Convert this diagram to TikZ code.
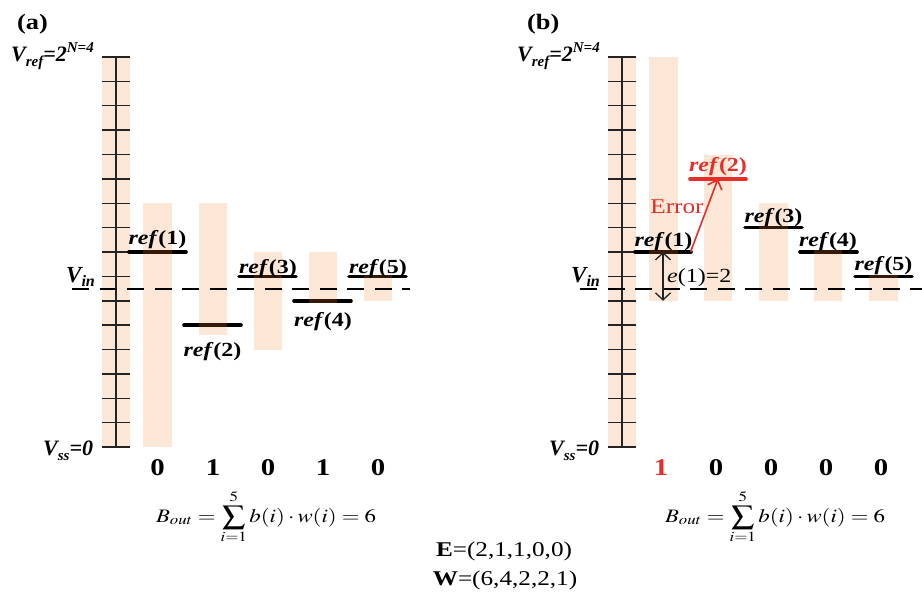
\documentclass[tikz,border=0pt]{standalone}
\usepackage{graphicx}
\usepackage{mathptmx}
\usepackage{fontspec}
\setmainfont{Liberation Serif}
\usetikzlibrary{arrows.meta}
\definecolor{peach}{RGB}{252,230,213}
\definecolor{errred}{RGB}{230,45,40}
\definecolor{ovl}{RGB}{55,25,8}
\definecolor{tickc}{RGB}{35,35,35}
\newcommand\sx[1]{\scalebox{1.2}[1]{#1}}
\newcommand\reflab[1]{\sx{\fontsize{20}{20}\selectfont\textbf{\textit{ref}}\textbf{(#1)}}}
\def\Y#1{447-24.375*#1}
\begin{document}
\begin{tikzpicture}[x=1pt,y=-1pt,
  tickl/.style={draw=tickc,line width=1.5pt},
  refl/.style={line width=3.6pt,line cap=round},
  vinl/.style={line width=2.4pt,dash pattern=on 17pt off 10.5pt},
  txt/.style={inner sep=0pt,anchor=base},
  ltxt/.style={inner sep=0pt,anchor=base west},
  digit/.style={inner sep=0pt,anchor=base,font=\fontsize{24}{24}\selectfont\bfseries},
  barb/.style={line width=1.3pt,draw=tickc}]
\useasboundingbox (0,0) rectangle (922,594);

% ---------------- panel (a) ----------------
\node[ltxt] (la) at (17,30) {\sx{\fontsize{22}{22}\selectfont\bfseries (a)}};
\fill[peach] (102,57) rectangle (130,447);
\fill[peach] (143,{\Y{10}}) rectangle (172,{\Y{0}});
\fill[peach] (199,{\Y{10}}) rectangle (227,335);
\fill[peach] (254,{\Y{8}}) rectangle (282,{\Y{4}});
\fill[peach] (309,{\Y{8}}) rectangle (337,{\Y{6}});
\fill[peach] (364,{\Y{7}}) rectangle (392,{\Y{6}});
\draw[tickl] (116,57) -- (116,447);
\foreach \k in {0,...,16} \draw[tickl] (102,{\Y{\k}}) -- (130,{\Y{\k}});
\draw[vinl] (72,289) -- (410,289);
% ref lines
\draw[refl] (129,{\Y{8}}) -- (186,{\Y{8}});
\draw[refl,ovl,line cap=butt] (143,{\Y{8}}) -- (172,{\Y{8}});
\draw[refl] (184,{\Y{5}}) -- (241,{\Y{5}});
\draw[refl,ovl,line cap=butt] (199,{\Y{5}}) -- (227,{\Y{5}});
\draw[refl] (239,{\Y{7}}) -- (296,{\Y{7}});
\draw[refl,ovl,line cap=butt] (254,{\Y{7}}) -- (282,{\Y{7}});
\draw[refl] (294,{\Y{6}}) -- (351,{\Y{6}});
\draw[refl,ovl,line cap=butt] (309,{\Y{6}}) -- (337,{\Y{6}});
\draw[refl] (349,{\Y{7}}) -- (406,{\Y{7}});
\draw[refl,ovl,line cap=butt] (364,{\Y{7}}) -- (392,{\Y{7}});
\node[txt] (ra1) at (157.5,244) {\reflab{1}};
\node[txt] (ra2) at (212.5,356) {\reflab{2}};
\node[txt] (ra3) at (268,273) {\reflab{3}};
\node[txt] (ra4) at (323,326) {\reflab{4}};
\node[txt] (ra5) at (378,273) {\reflab{5}};
\node[ltxt] (vrefa) at (11,62) {\fontsize{22}{22}\selectfont\bfseries\itshape V\raisebox{-5pt}{\fontsize{15}{15}\selectfont ref}=2\raisebox{9pt}{\fontsize{15}{15}\selectfont N=4}};
\node[ltxt] (vina) at (66,282) {\fontsize{23}{23}\selectfont\bfseries\itshape V\raisebox{-4pt}{\fontsize{16}{16}\selectfont in}};
\node[ltxt] (vssa) at (43,455) {\fontsize{22}{22}\selectfont\bfseries\itshape V\raisebox{-5pt}{\fontsize{15}{15}\selectfont ss}=0};
\node[digit] (da1) at (157.5,475) {\sx{0}};
\node[digit] (da2) at (213,475) {\sx{1}};
\node[digit] (da3) at (268,475) {\sx{0}};
\node[digit] (da4) at (323,475) {\sx{1}};
\node[digit] (da5) at (378,475) {\sx{0}};
\node[txt] (fa) at (266,522) {\sx{\fontsize{19}{19}\selectfont$\displaystyle B_{out} = \sum_{i=1}^{5} b(i)\cdot w(i) = 6$}};

% ---------------- panel (b) ----------------
\node[ltxt] (lb) at (527,30) {\sx{\fontsize{22}{22}\selectfont\bfseries (b)}};
\fill[peach] (608,57) rectangle (636,447);
\fill[peach] (649,{\Y{16}}) rectangle (678,{\Y{6}});
\fill[peach] (704,{\Y{12}}) rectangle (732,{\Y{6}});
\fill[peach] (759,{\Y{10}}) rectangle (788,{\Y{6}});
\fill[peach] (814,{\Y{8}}) rectangle (842,{\Y{6}});
\fill[peach] (869,{\Y{7}}) rectangle (898,{\Y{6}});
\draw[tickl] (622,57) -- (622,447);
\foreach \k in {0,...,16} \draw[tickl] (608,{\Y{\k}}) -- (636,{\Y{\k}});
\draw[vinl] (580,289) -- (922,289);
\draw[refl] (635,{\Y{8}}) -- (691,{\Y{8}});
\draw[refl,ovl,line cap=butt] (649,{\Y{8}}) -- (678,{\Y{8}});
\draw[refl,errred] (690,{\Y{11}}) -- (746,{\Y{11}});
\draw[refl] (745,{\Y{9}}) -- (802,{\Y{9}});
\draw[refl,ovl,line cap=butt] (759,{\Y{9}}) -- (788,{\Y{9}});
\draw[refl] (800,{\Y{8}}) -- (857,{\Y{8}});
\draw[refl,ovl,line cap=butt] (814,{\Y{8}}) -- (842,{\Y{8}});
\draw[refl] (855,{\Y{7}}) -- (912,{\Y{7}});
\draw[refl,ovl,line cap=butt] (869,{\Y{7}}) -- (898,{\Y{7}});
\node[txt] (rb1) at (663.5,246) {\reflab{1}};
\node[txt,text=errred] (rb2) at (718,171) {\reflab{2}};
\node[txt] (rb3) at (773.5,222) {\reflab{3}};
\node[txt] (rb4) at (828,246) {\reflab{4}};
\node[txt] (rb5) at (883.5,270) {\reflab{5}};
\coordinate (es) at (690.5,{\Y{8}});
\coordinate (et) at (718,{\Y{11}});
\draw[errred,line width=1.6pt,-{Straight Barb[length=8pt,width=15pt]}] (es) -- (et);
\node[txt,text=errred] (errt) at (677,213) {\sx{\fontsize{21}{21}\selectfont Error}};
\coordinate (ea) at (663,{\Y{8}});
\coordinate (eb) at (663,{\Y{6}});
\draw[barb,{Straight Barb[length=7pt,width=15pt]}-{Straight Barb[length=7pt,width=15pt]}] (ea) -- (eb);
\node[ltxt] (elab) at (667,282) {\sx{\fontsize{20}{20}\selectfont\textit{e}(1)=2}};
\node[ltxt] (vrefb) at (517,62) {\fontsize{22}{22}\selectfont\bfseries\itshape V\raisebox{-5pt}{\fontsize{15}{15}\selectfont ref}=2\raisebox{9pt}{\fontsize{15}{15}\selectfont N=4}};
\node[ltxt] (vinb) at (571,282) {\fontsize{23}{23}\selectfont\bfseries\itshape V\raisebox{-4pt}{\fontsize{16}{16}\selectfont in}};
\node[ltxt] (vssb) at (549,455) {\fontsize{22}{22}\selectfont\bfseries\itshape V\raisebox{-5pt}{\fontsize{15}{15}\selectfont ss}=0};
\node[digit,text=errred] (db1) at (661,475) {\sx{1}};
\node[digit] (db2) at (716,475) {\sx{0}};
\node[digit] (db3) at (771,475) {\sx{0}};
\node[digit] (db4) at (826,475) {\sx{0}};
\node[digit] (db5) at (881,475) {\sx{0}};
\node[txt] (fb) at (775,522) {\sx{\fontsize{19}{19}\selectfont$\displaystyle B_{out} = \sum_{i=1}^{5} b(i)\cdot w(i) = 6$}};

% ---------------- bottom ----------------
\node[txt] (evec) at (504,556) {\sx{\fontsize{21}{21}\selectfont\textbf{E}=(2,1,1,0,0)}};
\node[txt] (wvec) at (505,585) {\sx{\fontsize{21}{21}\selectfont\textbf{W}=(6,4,2,2,1)}};
\end{tikzpicture}
\end{document}
